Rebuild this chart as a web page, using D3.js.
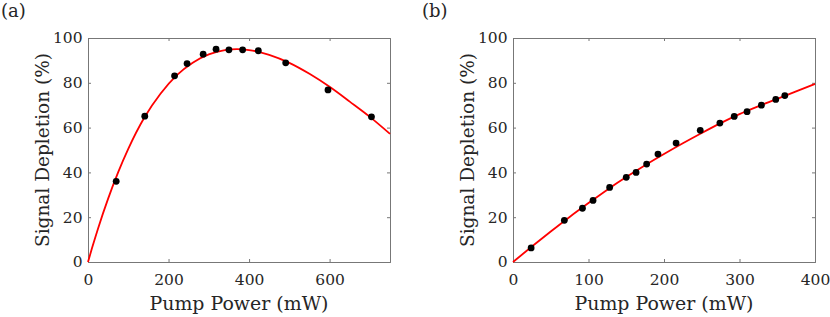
<!DOCTYPE html>
<html>
<head>
<meta charset="utf-8">
<script src="https://cdn.jsdelivr.net/npm/d3@7"></script>
<style>
  body { margin: 0; background: #fff; }
  svg text { font-family: "DejaVu Serif", serif; fill: #262626; }
</style>
</head>
<body>
<svg id="chart" width="830" height="317"></svg>
<script>
// panel (a): measured points and fitted curve
var powerA = [70, 141, 215, 246, 286, 318, 350, 384, 423, 491, 596, 704];
var depletionA = [36.0, 65.1, 83.1, 88.6, 92.8, 95.0, 94.7, 94.7, 94.3, 88.9, 76.8, 64.8];
var fitPowerA = [0, 10, 25, 50, 75, 100, 140, 180, 220, 260, 300, 340, 370, 400, 450, 500, 550, 600, 650, 700, 750];
var fitDepletionA = [0, 6.2, 15.0, 28.3, 40.1, 50.5, 64.5, 75.1, 83.3, 89.0, 92.7, 94.6, 95.0, 94.6, 92.5, 88.9, 84.0, 78.2, 71.6, 64.8, 57.2];

// panel (b)
var powerB = [24, 68, 92, 106, 128, 150, 163, 177, 192, 216, 248, 274, 293, 310, 329, 348, 360];
var depletionB = [6.3, 18.6, 24.0, 27.5, 33.3, 37.8, 40.0, 43.7, 48.2, 53.1, 58.8, 62.0, 65.0, 67.1, 70.0, 72.6, 74.3];
var fitPowerB = [0, 25, 50, 75, 100, 125, 150, 175, 200, 225, 250, 275, 300, 325, 350, 375, 400];
var fitDepletionB = [0, 6.9, 13.6, 20.1, 26.3, 32.3, 37.9, 43.2, 48.2, 53.0, 57.6, 62.0, 66.0, 69.5, 72.8, 76.2, 79.5];

var xTicksA = [0, 200, 400, 600];
var xTicksB = [0, 100, 200, 300, 400];
var yTicks = [0, 20, 40, 60, 80, 100];

var svg = d3.select("#chart");

function drawPanel(opts) {
  var left = opts.left, right = opts.right, top = 38, bottom = 262;

  var x = d3.scaleLinear().domain([0, opts.xMax]).range([left, right]);
  var y = d3.scaleLinear().domain([0, 100]).range([bottom, top]);

  var g = svg.append("g").attr("class", "panel");

  // ticks pointing inwards on all four sides
  var axes = [
    { ax: d3.axisBottom(x).tickValues(opts.xTicks).tickSize(-3).tickPadding(12), at: "translate(0," + bottom + ")", labels: true },
    { ax: d3.axisTop(x).tickValues(opts.xTicks).tickSize(-3), at: "translate(0," + top + ")", labels: false },
    { ax: d3.axisLeft(y).tickValues(yTicks).tickSize(-3).tickPadding(5.5), at: "translate(" + left + ",0)", labels: true },
    { ax: d3.axisRight(y).tickValues(yTicks).tickSize(-3), at: "translate(" + right + ",0)", labels: false }
  ];
  axes.forEach(function(a) {
    var ag = g.append("g").attr("transform", a.at).call(a.ax);
    ag.select(".domain").attr("stroke", "#777").attr("stroke-width", 1);
    ag.selectAll(".tick line").attr("stroke", "#777");
    ag.selectAll(".tick text")
      .style("font-size", "15.5px")
      .attr("fill", "#262626")
      .style("display", a.labels ? null : "none");
  });

  var fit = opts.fitX.map(function(p, i) { return [p, opts.fitY[i]]; });
  var line = d3.line()
    .x(function(d) { return x(d[0]); })
    .y(function(d) { return y(d[1]); })
    .curve(d3.curveMonotoneX);

  g.append("path")
    .datum(fit)
    .attr("d", line)
    .attr("fill", "none")
    .attr("stroke", "#ff0000")
    .attr("stroke-width", 1.8);

  g.selectAll("circle.pt")
    .data(opts.px)
    .enter().append("circle")
    .attr("class", "pt")
    .attr("cx", function(d) { return x(d); })
    .attr("cy", function(d, i) { return y(opts.py[i]); })
    .attr("r", 3.4)
    .attr("fill", "#000");

  g.append("text")
    .attr("x", (left + right) / 2)
    .attr("y", 310)
    .attr("text-anchor", "middle")
    .style("font-size", "18.5px")
    .attr("textLength", 179)
    .attr("lengthAdjust", "spacingAndGlyphs")
    .text("Pump Power (mW)");

  g.append("text")
    .attr("transform", "translate(" + (left - 39) + "," + ((top + bottom) / 2) + ") rotate(-90)")
    .attr("text-anchor", "middle")
    .style("font-size", "18.5px")
    .attr("textLength", 194)
    .attr("lengthAdjust", "spacingAndGlyphs")
    .text("Signal Depletion (%)");

  g.append("text")
    .attr("x", opts.tagX)
    .attr("y", 17)
    .style("font-size", "18px")
    .text(opts.tag);
}

drawPanel({ left: 88, right: 390, xMax: 750, xTicks: xTicksA, px: powerA, py: depletionA,
  fitX: fitPowerA, fitY: fitDepletionA, tag: "(a)", tagX: 1 });
drawPanel({ left: 513, right: 815, xMax: 400, xTicks: xTicksB, px: powerB, py: depletionB,
  fitX: fitPowerB, fitY: fitDepletionB, tag: "(b)", tagX: 422 });
</script>
</body>
</html>
